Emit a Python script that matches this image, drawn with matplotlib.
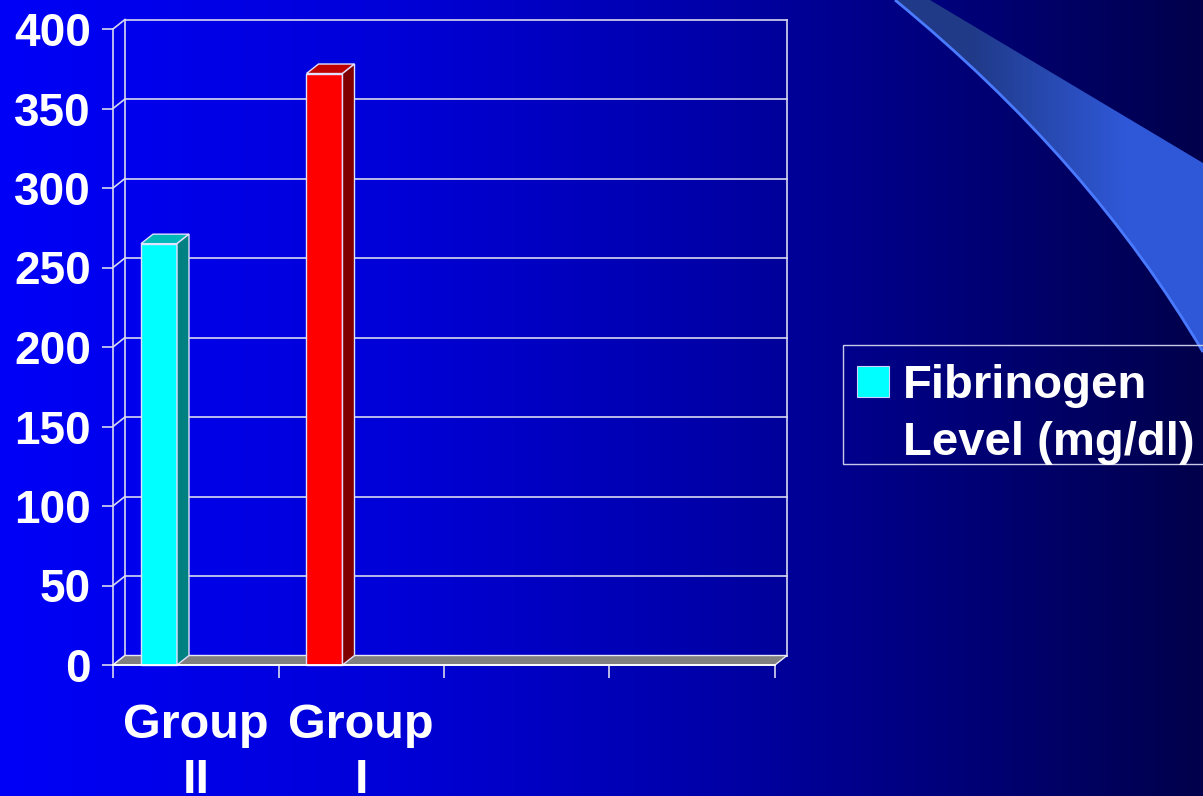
import numpy as np
import matplotlib
matplotlib.use("Agg")
import matplotlib.pyplot as plt
from matplotlib.patches import Rectangle, Polygon, PathPatch
from matplotlib.path import Path

plt.rcParams['font.family'] = ['Liberation Sans', 'DejaVu Sans']
plt.rcParams['font.weight'] = 'bold'

# data
categories = ["Group\nII", "Group\nI"]
values = [265, 372]
bar_colors = ["#00ffff", "#ff0000"]
top_colors = ["#00b8b8", "#c00000"]
side_colors = ["#008080", "#800000"]
n_slots = 4
yticks = list(range(0, 401, 50))
legend_label = "Fibrinogen\nLevel (mg/dl)"

W, H = 1203, 796
fig = plt.figure(figsize=(W / 100, H / 100), dpi=100)

# background gradient + swoosh, in pixel coords
bg = fig.add_axes([0, 0, 1, 1])
bg.set_xlim(0, W)
bg.set_ylim(H, 0)
bg.axis("off")
xs = np.arange(W)
blue = np.interp(xs, [0, 400, 700, 850, 1203], [248, 215, 170, 140, 75]) / 255
grad = np.zeros((1, W, 3))
grad[0, :, 2] = blue
bg.imshow(grad, extent=[0, W, H, 0], aspect="auto", zorder=0)

verts = [(895, 0), (1090, 160), (1203, 352), (1203, 163), (930, 0), (895, 0)]
codes = [Path.MOVETO, Path.CURVE3, Path.CURVE3, Path.LINETO, Path.LINETO, Path.CLOSEPOLY]
swoosh = PathPatch(Path(verts, codes), facecolor="none", edgecolor="none")
bg.add_patch(swoosh)
sw = np.zeros((1, 2, 3))
sw[0, 0] = [0x20 / 255, 0x3a / 255, 0x88 / 255]
sw[0, 1] = [0x2f / 255, 0x58 / 255, 0xd8 / 255]
im = bg.imshow(sw, extent=[895, W, H, 0], aspect="auto", interpolation="bilinear", zorder=1)
im.set_clip_path(swoosh)
edge = Path(verts[:3], codes[:3])
bg.add_patch(PathPatch(edge, facecolor="none", edgecolor="#4a7aff", lw=2, zorder=2))

# legend (drawn by hand, box runs off the right edge)
bg.add_patch(Rectangle((843, 345), 380, 119, fill=False, edgecolor="#c8c8e8", lw=1, zorder=3))
bg.add_patch(Rectangle((857, 366), 32, 31, facecolor=bar_colors[0], edgecolor="#d0d0ff", lw=0.8, zorder=3))
bg.text(903, 455, legend_label, color="white", fontsize=34, fontweight="bold",
        va="baseline", ha="left", linespacing=1.37, zorder=3)

# chart axes = front plane
ax = fig.add_axes([113 / W, 131 / H, 662 / W, 636 / H])
ax.set_zorder(1)
ax.patch.set_alpha(0)
ax.set_xlim(0, n_slots)
ax.set_ylim(0, 400)
for s in ax.spines.values():
    s.set_visible(False)

DX = 12 / (662 / n_slots)
DY = 9.5 / (636 / 400)
line_c = "#d8d8f0"

# back wall grid and edges
for v in yticks:
    ax.plot([DX, n_slots + DX], [v + DY, v + DY], color=line_c, lw=1.2, clip_on=False, zorder=1)
    ax.plot([0, DX], [v, v + DY], color=line_c, lw=1.2, clip_on=False, zorder=1)
ax.plot([DX, DX], [DY, 400 + DY], color=line_c, lw=1.2, clip_on=False, zorder=1)
ax.plot([n_slots + DX, n_slots + DX], [DY, 400 + DY], color=line_c, lw=1.2, clip_on=False, zorder=1)
ax.plot([0, 0], [0, 400], color=line_c, lw=1.2, clip_on=False, zorder=4)

# floor
ax.add_patch(Polygon([(0, 0), (n_slots, 0), (n_slots + DX, DY), (DX, DY)], closed=True,
                     facecolor="#808080", edgecolor="#e8e8f8", lw=1, clip_on=False, zorder=2))

# bars
off, bw = 28 / 165.5, 36 / 165.5
for i, v in enumerate(values):
    x0 = i + off
    ec = "#e0e0ff"
    ax.add_patch(Rectangle((x0, 0), bw, v, facecolor=bar_colors[i], edgecolor=ec, lw=1,
                           clip_on=False, zorder=3))
    ax.add_patch(Polygon([(x0, v), (x0 + bw, v), (x0 + bw + DX, v + DY), (x0 + DX, v + DY)],
                         closed=True, facecolor=top_colors[i], edgecolor=ec, lw=1, clip_on=False, zorder=3))
    ax.add_patch(Polygon([(x0 + bw, 0), (x0 + bw + DX, DY), (x0 + bw + DX, v + DY), (x0 + bw, v)],
                         closed=True, facecolor=side_colors[i], edgecolor=ec, lw=1, clip_on=False, zorder=3))

ax.plot([0, n_slots], [0, 0], color="white", lw=1.3, clip_on=False, zorder=4)

# ticks
ax.set_yticks(yticks)
ax.tick_params(axis="y", length=8, width=1.2, color=line_c, pad=8, labelsize=33, labelcolor="white")
ax.set_xticks(range(n_slots + 1))
ax.set_xticklabels([])
ax.tick_params(axis="x", which="major", length=9, width=1.2, color=line_c)
ax.set_xticks([i + 0.5 for i in range(len(categories))], minor=True)
ax.set_xticklabels(categories, minor=True)
ax.tick_params(axis="x", which="minor", length=0, pad=27, labelsize=35, labelcolor="white")
for t in ax.get_xticklabels(minor=True):
    t.set_linespacing(1.3)
for t in ax.get_yticklabels() + ax.get_xticklabels(minor=True):
    t.set_fontweight("bold")

fig.savefig("out.png", dpi=100)
